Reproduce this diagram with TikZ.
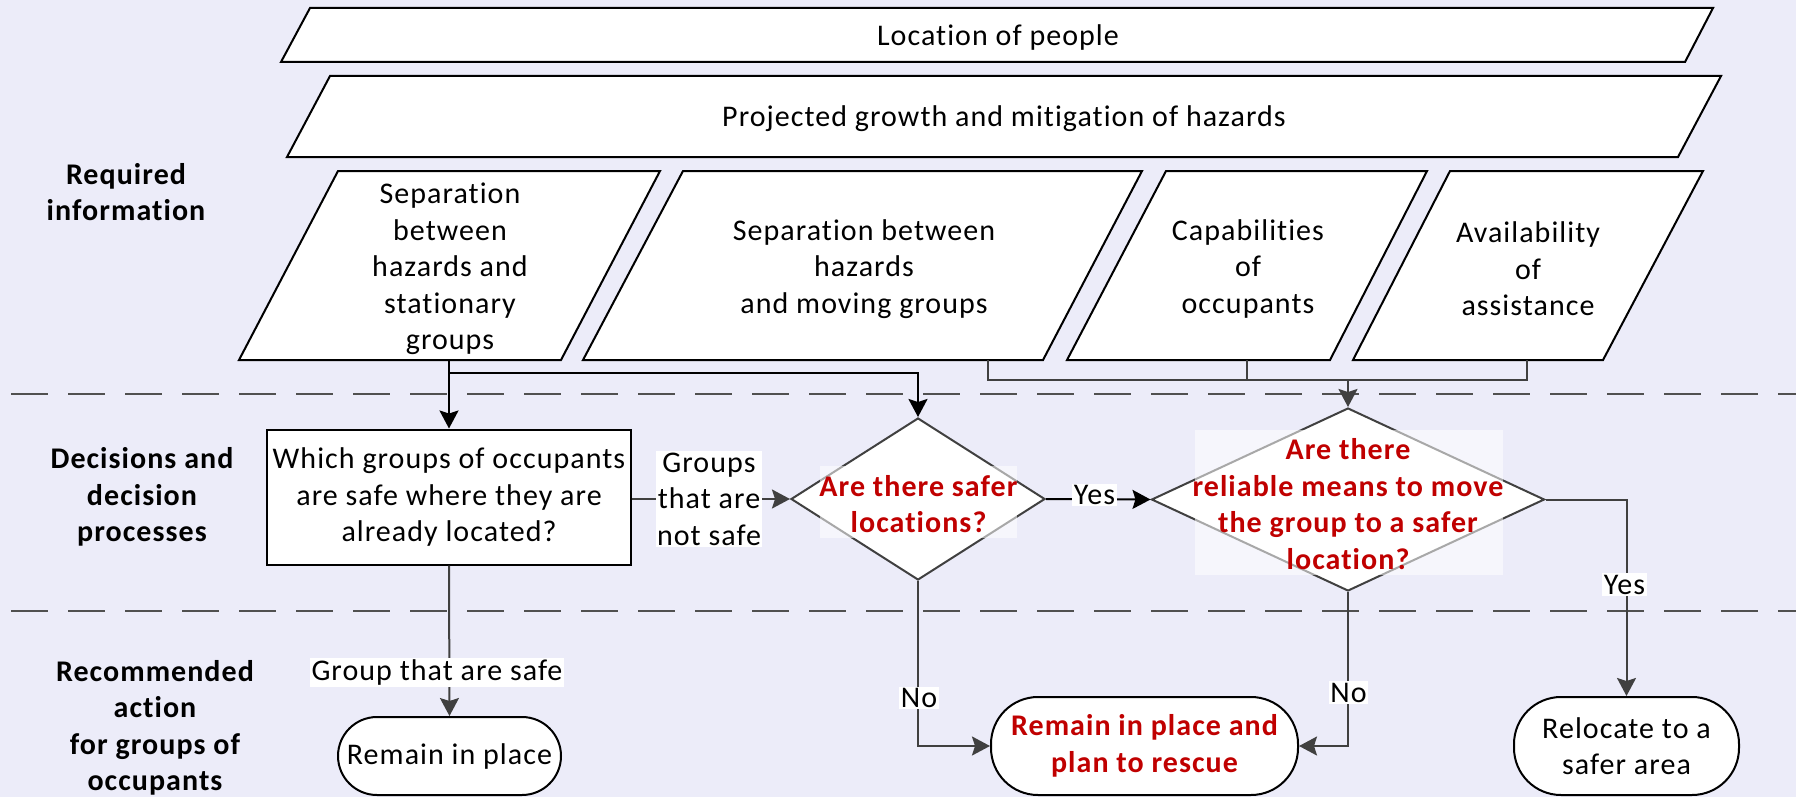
\documentclass[tikz,border=0pt]{standalone}
\usepackage{fontspec}
\setmainfont{Carlito}[LetterSpace=3.5,Ligatures=NoCommon]
\usetikzlibrary{arrows.meta,shapes.geometric}
\definecolor{lav}{RGB}{236,236,249}
\definecolor{dred}{RGB}{192,0,0}
\definecolor{dgray}{RGB}{64,64,64}
\definecolor{dashgray}{RGB}{80,80,80}
\begin{document}
\begin{tikzpicture}[x=1pt,y=-1pt,
  font=\fontsize{30}{36.5}\selectfont,
  para/.style={draw=black,fill=white,line width=2pt,line join=miter},
  txt/.style={align=center,inner sep=0pt},
  lane/.style={txt,font=\fontsize{30}{36.5}\selectfont\bfseries},
  question/.style={txt,font=\fontsize{30}{36.5}\selectfont\bfseries,text=dred},
  haze/.style={fill=white,fill opacity=0.55,text opacity=1,inner sep=0pt},
  decision/.style={diamond,draw=dgray,fill=white,line width=2pt,inner sep=0pt},
  procbox/.style={rectangle,draw=black,fill=white,line width=2pt,align=center,inner sep=0pt},
  terminal/.style={rectangle,draw=black,fill=white,line width=2pt,align=center,inner sep=0pt},
  lbl/.style={fill=white,align=center,inner sep=1.5pt},
  conn/.style={draw=dgray,line width=2pt},
  blkconn/.style={draw=black,line width=2pt},
  tip/.style={-{Stealth[length=18pt,width=19pt,inset=3pt]}},
  lanesep/.style={draw=dashgray,line width=2pt,dash pattern=on 37pt off 20pt}
]
% canvas
\fill[lav] (0,0) rectangle (1796,797);
\useasboundingbox (0,0) rectangle (1796,797);

% lane separators
\draw[lanesep] (11,394) -- (1796,394);
\draw[lanesep] (11,611) -- (1796,611);

% lane titles
\node[lane] (lreq) at (126,192) {Required\\information};
\node[lane] (ldec) at (142,497) {Decisions and\\decision\\processes};
\node[lane] (lrec) at (155,728) {Recommended\\action\\for groups of\\occupants};

% required information (parallelograms)
\path[para] (310,8) -- (1713,8) -- (1685,62) -- (281,62) -- cycle;
\node[txt] (loc) at (998,38) {Location of people};

\path[para] (330,76) -- (1721,76) -- (1678,157) -- (287,157) -- cycle;
\node[txt] (haz) at (1004,119) {Projected growth and mitigation of hazards};

\path[para] (338,171) -- (660,171) -- (561,360) -- (239,360) -- cycle;
\node[txt] (sta) at (450,269) {Separation\\between\\hazards and\\stationary\\groups};

\path[para] (683,171) -- (1142,171) -- (1043,360) -- (583,360) -- cycle;
\node[txt] (mov) at (864,269) {Separation between\\hazards\\and moving groups};

\path[para] (1166,171) -- (1427,171) -- (1330,360) -- (1067,360) -- cycle;
\node[txt] (cap) at (1248,269) {Capabilities\\of\\occupants};

\path[para] (1450,171) -- (1703,171) -- (1603,360) -- (1353,360) -- cycle;
\node[txt] (ava) at (1528,269) {Availability\\of\\assistance};

\coordinate (sta-out) at (449,360);
\coordinate (mov-out) at (988,360);
\coordinate (cap-out) at (1247,360);
\coordinate (ava-out) at (1527,360);

% decisions
\node[procbox,minimum width=364pt,minimum height=135pt] (q) at (449,497)
  {Which groups of occupants\\are safe where they are\\already located?};

\node[decision,minimum width=254pt,minimum height=162pt] (d1) at (918,499) {};
\node[haze,minimum width=197pt,minimum height=72pt] (d1t) at (918.5,502) {};
\node[question] (d1q) at (918.5,504) {Are there safer\\locations?};

\node[decision,minimum width=393pt,minimum height=183pt] (d2) at (1348,499.5) {};
\node[haze,minimum width=308pt,minimum height=145pt] (d2t) at (1349,502.5) {};
\node[question] (d2q) at (1348,504) {Are there\\reliable means to move\\the group to a safer\\location?};

% recommended actions
\node[terminal,minimum width=223pt,minimum height=78pt,rounded corners=39pt] (rip) at (449.5,756) {Remain in place};
\node[terminal,minimum width=307pt,minimum height=98pt,rounded corners=47pt] (res) at (1144.5,746)
  {\bfseries\color{dred}Remain in place and\\\bfseries\color{dred}plan to rescue};
\node[terminal,minimum width=225pt,minimum height=98pt,rounded corners=47pt] (rel) at (1626.5,746)
  {Relocate to a\\safer area};

% connectors from the information row
\coordinate (j1) at (449,373);
\coordinate (j2) at (1348,380);
\draw[blkconn,tip] (sta-out) -- (q.north);
\draw[blkconn,tip] (j1) -| (d1.north);
\draw[conn] (mov-out) |- (j2);
\draw[conn] (cap-out) -- (cap-out |- j2);
\draw[conn] (ava-out) |- (j2);
\draw[conn,tip] (j2) -- (d2.north);

% decision flow
\draw[conn,tip] (q.east |- d1.west) -- (d1.west);
\node[lbl] (l-ns) at (709,499) {Groups\\that are\\not safe};

\draw[blkconn,tip] (d1.east) -- (d2.west);
\node[lbl] (l-y1) at (1094.5,495) {Yes};

\draw[conn,tip] (d2.east) -| (rel.north);
\node[lbl] (l-y2) at (1624.5,584.5) {Yes};

\draw[conn,tip] (d1.south) |- (res.west);
\node[lbl] (l-n1) at (919,698) {No};

\draw[conn,tip] (d2.south) |- (res.east);
\node[lbl] (l-n2) at (1348.5,692.5) {No};

\draw[conn,tip] (q.south) -- (rip.north);
\node[lbl] (l-safe) at (437,672.5) {Group that are safe};
\end{tikzpicture}
\end{document}
